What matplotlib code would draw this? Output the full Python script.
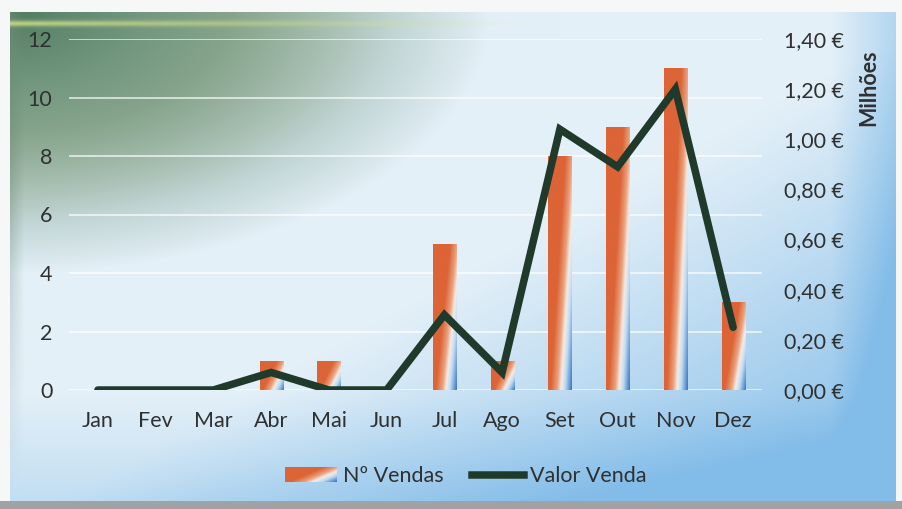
import numpy as np
import matplotlib
matplotlib.use("Agg")
import matplotlib.pyplot as plt
from matplotlib.colors import LinearSegmentedColormap, Normalize
from matplotlib.patches import Patch
from matplotlib.lines import Line2D
from matplotlib.ticker import FuncFormatter, MultipleLocator
from matplotlib.legend_handler import HandlerBase
from matplotlib.image import BboxImage
from matplotlib.transforms import Bbox, TransformedBbox

plt.rcParams['font.family'] = ['Lato', 'DejaVu Sans']

meses = ['Jan', 'Fev', 'Mar', 'Abr', 'Mai', 'Jun', 'Jul', 'Ago', 'Set', 'Out', 'Nov', 'Dez']
n_vendas = [0, 0, 0, 1, 1, 0, 5, 1, 8, 9, 11, 3]
valor_venda = [0.0, 0.0, 0.0, 0.07, 0.0, 0.0, 0.30, 0.07, 1.04, 0.89, 1.20, 0.25]  # milhoes de euros

txt = '#2f3131'
linha_cor = '#1f3a2b'
laranja = '#dc6436'
fs = 15.5

W, H = 902, 509
fig = plt.figure(figsize=(W / 100, H / 100), dpi=100)

# ---- fundo em gradiente (verde no canto, azul claro, azul em baixo a direita)
yy, xx = np.mgrid[0:H, 0:W].astype(float)
base = np.array([228, 240, 248]) / 255
verde = np.array([80, 124, 94]) / 255
oliva = np.array([185, 195, 150]) / 255
azul = np.array([130, 188, 232]) / 255
dx, dy = xx - 10, yy - 12
r = np.sqrt((dx / 480) ** 2 + (dy / 260) ** 2)
g = np.clip(1 - r, 0, 1)[..., None]
o = np.clip(1 - np.abs(r - 0.45) / 0.35, 0, 1)[..., None] * 0.5
b = np.clip((dx / 885 + dy / 488 - 1.05) / 0.9, 0, 1) + 0.5 * np.clip((xx - 830) / 65, 0, 1) \
    + 0.35 * np.clip((dy - 380) / 110, 0, 1)
b = np.clip(b, 0, 1)[..., None]
img = base * (1 - b) + azul * b
img = img * (1 - o) + oliva * o
img = img * (1 - g ** 0.9) + verde * g ** 0.9
# faixa mais escura no bordo esquerdo
esq = (np.clip(1 - dx / 14, 0, 1) * np.clip(1 - dy / 480, 0, 1))[..., None] * 0.6
img = img * (1 - esq) + np.array([110, 140, 120]) / 255 * esq
# realce amarelado no topo
hl = (np.exp(-((yy - 23) / 3.0) ** 2) * np.clip(1 - dx / 550, 0, 1))[..., None] * 0.8
img = img * (1 - hl) + np.array([210, 225, 140]) / 255 * hl
fora = (xx < 10) | (xx > 895) | (yy < 12)
img[fora] = np.array([246, 247, 247]) / 255
img[yy > 500] = np.array([160, 162, 165]) / 255

bg = fig.add_axes([0, 0, 1, 1])
bg.imshow(img, aspect='auto', interpolation='bilinear')
bg.axis('off')

# ---- gradiente das barras
cmap = LinearSegmentedColormap.from_list('barra', [
    (0.0, laranja), (0.45, laranja), (0.62, '#eba27e'), (0.72, '#f3ece6'),
    (0.82, '#c2dcf2'), (1.0, '#3a78c6')])
u, v = np.meshgrid(np.linspace(0, 1, 60), np.linspace(0, 1, 300))
grad = (u + 0.625 * (1 - v)) / 1.625


class HandlerGrad(HandlerBase):
    def create_artists(self, legend, orig_handle, xdescent, ydescent, width, height,
                       fontsize, trans):
        bb = TransformedBbox(Bbox.from_bounds(-xdescent, -ydescent, width, height), trans)
        im = BboxImage(bb, cmap=cmap, norm=Normalize(0, 1), interpolation='bilinear')
        gu, gv = np.meshgrid(np.linspace(0, 1, 50), np.linspace(1, 0, 14))
        im.set_data((gu + 0.625 * (1 - gv)) / 1.625)
        return [im]


# ---- eixos principais
ax = fig.add_axes([69 / W, 1 - 390 / H, 693 / W, 351 / H])
ax.patch.set_alpha(0)
x = np.arange(len(meses))

barras = ax.bar(x, n_vendas, width=0.4, color='none', edgecolor='none', zorder=2)
for rect in barras:
    h = rect.get_height()
    if h <= 0:
        continue
    x0 = rect.get_x()
    im = ax.imshow(grad, cmap=cmap, vmin=0, vmax=1, origin='lower', aspect='auto',
                   extent=[x0, x0 + rect.get_width(), 0, h], zorder=2)
    im.set_clip_path(rect)

ax.set_xlim(-0.5, len(meses) - 0.5)
ax.set_ylim(0, 12)
ax.yaxis.set_major_locator(MultipleLocator(2))
ax.grid(axis='y', color='white', lw=1.3, alpha=0.7, zorder=0)
ax.set_axisbelow(True)
ax.set_xticks(x)
ax.set_xticklabels(meses)
ax.tick_params(axis='both', length=0, labelsize=fs, colors=txt)
ax.tick_params(axis='x', pad=15)
ax.tick_params(axis='y', pad=12)
for s in ax.spines.values():
    s.set_visible(False)

ax2 = ax.twinx()
ax2.plot(x, valor_venda, color=linha_cor, lw=5.4, solid_capstyle='round',
         solid_joinstyle='miter', zorder=3)
ax2.set_ylim(0, 1.4)
ax2.yaxis.set_major_locator(MultipleLocator(0.2))
ax2.yaxis.set_major_formatter(FuncFormatter(lambda v, p: f'{v:.2f}'.replace('.', ',') + ' €'))
ax2.tick_params(axis='y', length=0, labelsize=fs, colors=txt, pad=16)
for s in ax2.spines.values():
    s.set_visible(False)

fig.text(869 / W, 1 - 88 / H, 'Milhões', rotation=90, ha='center', va='center',
         fontsize=fs, fontweight='bold', color=txt)

handles = [Patch(facecolor=laranja, edgecolor='none'),
           Line2D([0], [0], color=linha_cor, lw=5.4)]
fig.legend(handles, ['Nº Vendas', 'Valor Venda'], loc='center',
           bbox_to_anchor=(466 / W, 1 - 476 / H), ncol=2, frameon=False,
           fontsize=fs, labelcolor=txt, handlelength=2.4, handleheight=0.65,
           handletextpad=0.3, columnspacing=1.3,
           handler_map={Patch: HandlerGrad()})

fig.savefig('out.png', dpi=100)
